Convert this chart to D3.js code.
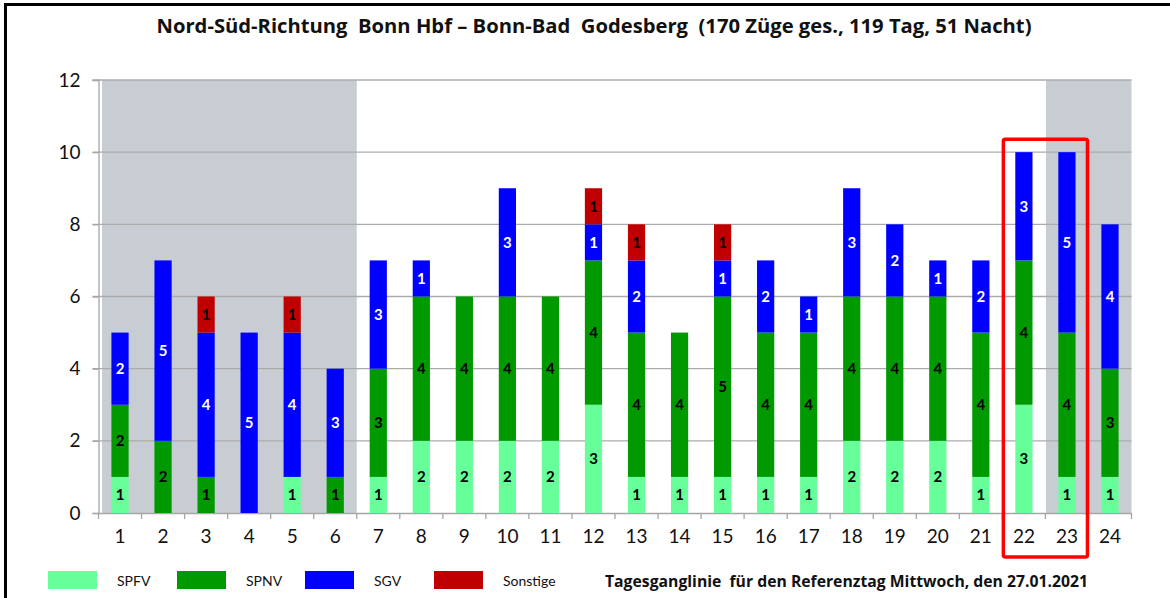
<!DOCTYPE html>
<html><head><meta charset="utf-8">
<script src="https://cdn.jsdelivr.net/npm/d3@7"></script>
<style>
html,body{margin:0;padding:0;background:#fff;}
svg{display:block;}
</style></head>
<body>
<svg id="chart" width="1170" height="598"></svg>
<script>
const hours = d3.range(1, 25).map(String);
const SPFV     = [1,0,0,0,1,0,1,2,2,2,2,3,1,1,1,1,1,2,2,2,1,3,1,1];
const SPNV     = [2,2,1,0,0,1,3,4,4,4,4,4,4,4,5,4,4,4,4,4,4,4,4,3];
const SGV      = [2,5,4,5,4,3,3,1,0,3,0,1,2,0,1,2,1,3,2,1,2,3,5,4];
const Sonstige = [0,0,1,0,1,0,0,0,0,0,0,1,1,0,1,0,0,0,0,0,0,0,0,0];
const seriesNames = ["SPFV","SPNV","SGV","Sonstige"];
const seriesColors = ["#66FF99","#009900","#0000FF","#C00000"];
const labelColors = ["#000","#000","#fff","#000"];
const yTicks = [0,2,4,6,8,10,12];
const nightRanges = [["1","6"],["23","24"]];
const highlight = ["22","23"];
const title = "Nord-Süd-Richtung  Bonn Hbf – Bonn-Bad  Godesberg  (170 Züge ges., 119 Tag, 51 Nacht)";
const caption = "Tagesganglinie  für den Referenztag Mittwoch, den 27.01.2021";

(function(){
const svg = d3.select("#chart");
const W = 1170, H = 598;
const pL = 98.5, pR = 1131.5, pT = 80, pB = 513;

const x = d3.scaleBand().domain(hours).range([pL, pR]).padding(0);
const y = d3.scaleLinear().domain([0, 12]).range([pB, pT]);
const barW = x.bandwidth() * 0.4;

// frame (top & left)
svg.append("line").attr("x1",4).attr("x2",W).attr("y1",4.5).attr("y2",4.5).attr("stroke","#000").attr("stroke-width",3);
svg.append("line").attr("x1",5.5).attr("x2",5.5).attr("y1",3).attr("y2",H).attr("stroke","#000").attr("stroke-width",3);

// title
svg.append("text").attr("x", 594).attr("y", 32.5).attr("text-anchor","middle")
  .attr("font-family","'Open Sans', sans-serif").attr("font-weight","bold")
  .attr("font-size",19.5).attr("fill","#111")
  .attr("textLength", 875).attr("lengthAdjust","spacingAndGlyphs")
  .style("white-space","pre").text(title);

// night background
nightRanges.forEach(([a,b]) => {
  const x0 = x(a) + (a === "1" ? 3.5 : 0.5);
  const x1 = x(b) + x.bandwidth();
  svg.append("rect").attr("x", x0).attr("y", y(12)).attr("width", x1 - x0)
    .attr("height", y(0) - y(12)).attr("fill","#C8CDD3");
});

// gridlines
svg.append("g").selectAll("line").data(yTicks.filter(d => d > 0)).join("line")
  .attr("x1", pL - 6).attr("x2", pR).attr("y1", d => y(d)).attr("y2", d => y(d))
  .attr("stroke","#ABABAB").attr("stroke-width",1.3);

// y axis
const yAxis = svg.append("g").attr("transform",`translate(${pL},0)`)
  .call(d3.axisLeft(y).tickValues(yTicks).tickSize(6).tickPadding(12));
yAxis.select(".domain").attr("stroke","#A6A6A6").attr("stroke-width",1.3);
yAxis.selectAll(".tick line").attr("stroke","#A6A6A6").attr("stroke-width",1.3);
yAxis.selectAll("text").attr("font-family","Lato, 'Open Sans', sans-serif").attr("font-size",19).attr("fill","#111");

// x axis
const xAxis = svg.append("g").attr("transform",`translate(0,${pB})`)
  .call(d3.axisBottom(x).tickSize(0).tickPadding(17));
xAxis.select(".domain").attr("stroke","#A6A6A6").attr("stroke-width",1.3);
xAxis.selectAll("text").attr("font-family","Lato, 'Open Sans', sans-serif").attr("font-size",19).attr("fill","#111");
// boundary ticks
svg.append("g").selectAll("line").data(hours.concat(["end"])).join("line")
  .attr("x1", d => d === "end" ? pR : x(d)).attr("x2", d => d === "end" ? pR : x(d))
  .attr("y1", pB).attr("y2", pB + 6).attr("stroke","#A6A6A6").attr("stroke-width",1.3);

// stacked bars
const table = hours.map((h,i) => ({hour:h, SPFV:SPFV[i], SPNV:SPNV[i], SGV:SGV[i], Sonstige:Sonstige[i]}));
const stack = d3.stack().keys(seriesNames)(table);
const gBars = svg.append("g");
stack.forEach((layer, si) => {
  const g = gBars.append("g");
  g.selectAll("rect").data(layer).join("rect")
    .attr("x", d => x(d.data.hour) + (x.bandwidth() - barW)/2)
    .attr("width", barW)
    .attr("y", d => y(d[1]))
    .attr("height", d => y(d[0]) - y(d[1]))
    .attr("fill", seriesColors[si]);
  g.selectAll("text").data(layer.filter(d => d[1] - d[0] > 0)).join("text")
    .attr("x", d => x(d.data.hour) + x.bandwidth()/2)
    .attr("y", d => (y(d[0]) + y(d[1]))/2 + 5.5)
    .attr("text-anchor","middle")
    .attr("font-family","Lato, 'Open Sans', sans-serif").attr("font-weight","bold")
    .attr("font-size",15).attr("fill", labelColors[si])
    .text(d => d[1] - d[0]);
});

// highlight box
const hx0 = x(highlight[0]) + 1, hx1 = x(highlight[1]) + x.bandwidth() - 1;
svg.append("rect").attr("x", hx0).attr("y", y(10) - 13).attr("width", hx1 - hx0)
  .attr("height", 557 - (y(10) - 13)).attr("rx", 2)
  .attr("fill","none").attr("stroke","#FF0000").attr("stroke-width",3.5);

// legend
const legX = [48, 177, 305, 434];
const leg = svg.append("g");
seriesNames.forEach((n, i) => {
  leg.append("rect").attr("x", legX[i]).attr("y", 571).attr("width", 49).attr("height", 18).attr("fill", seriesColors[i]);
  leg.append("text").attr("x", legX[i] + 69).attr("y", 586)
    .attr("font-family","Lato, 'Open Sans', sans-serif").attr("font-size",14).attr("fill","#111").text(n);
});

// caption
svg.append("text").attr("x", 605).attr("y", 586.5)
  .attr("font-family","'Open Sans', sans-serif").attr("font-weight","bold")
  .attr("font-size",15.5).attr("fill","#111")
  .attr("textLength", 483).attr("lengthAdjust","spacingAndGlyphs")
  .style("white-space","pre").text(caption);
})();
</script>
</body></html>
